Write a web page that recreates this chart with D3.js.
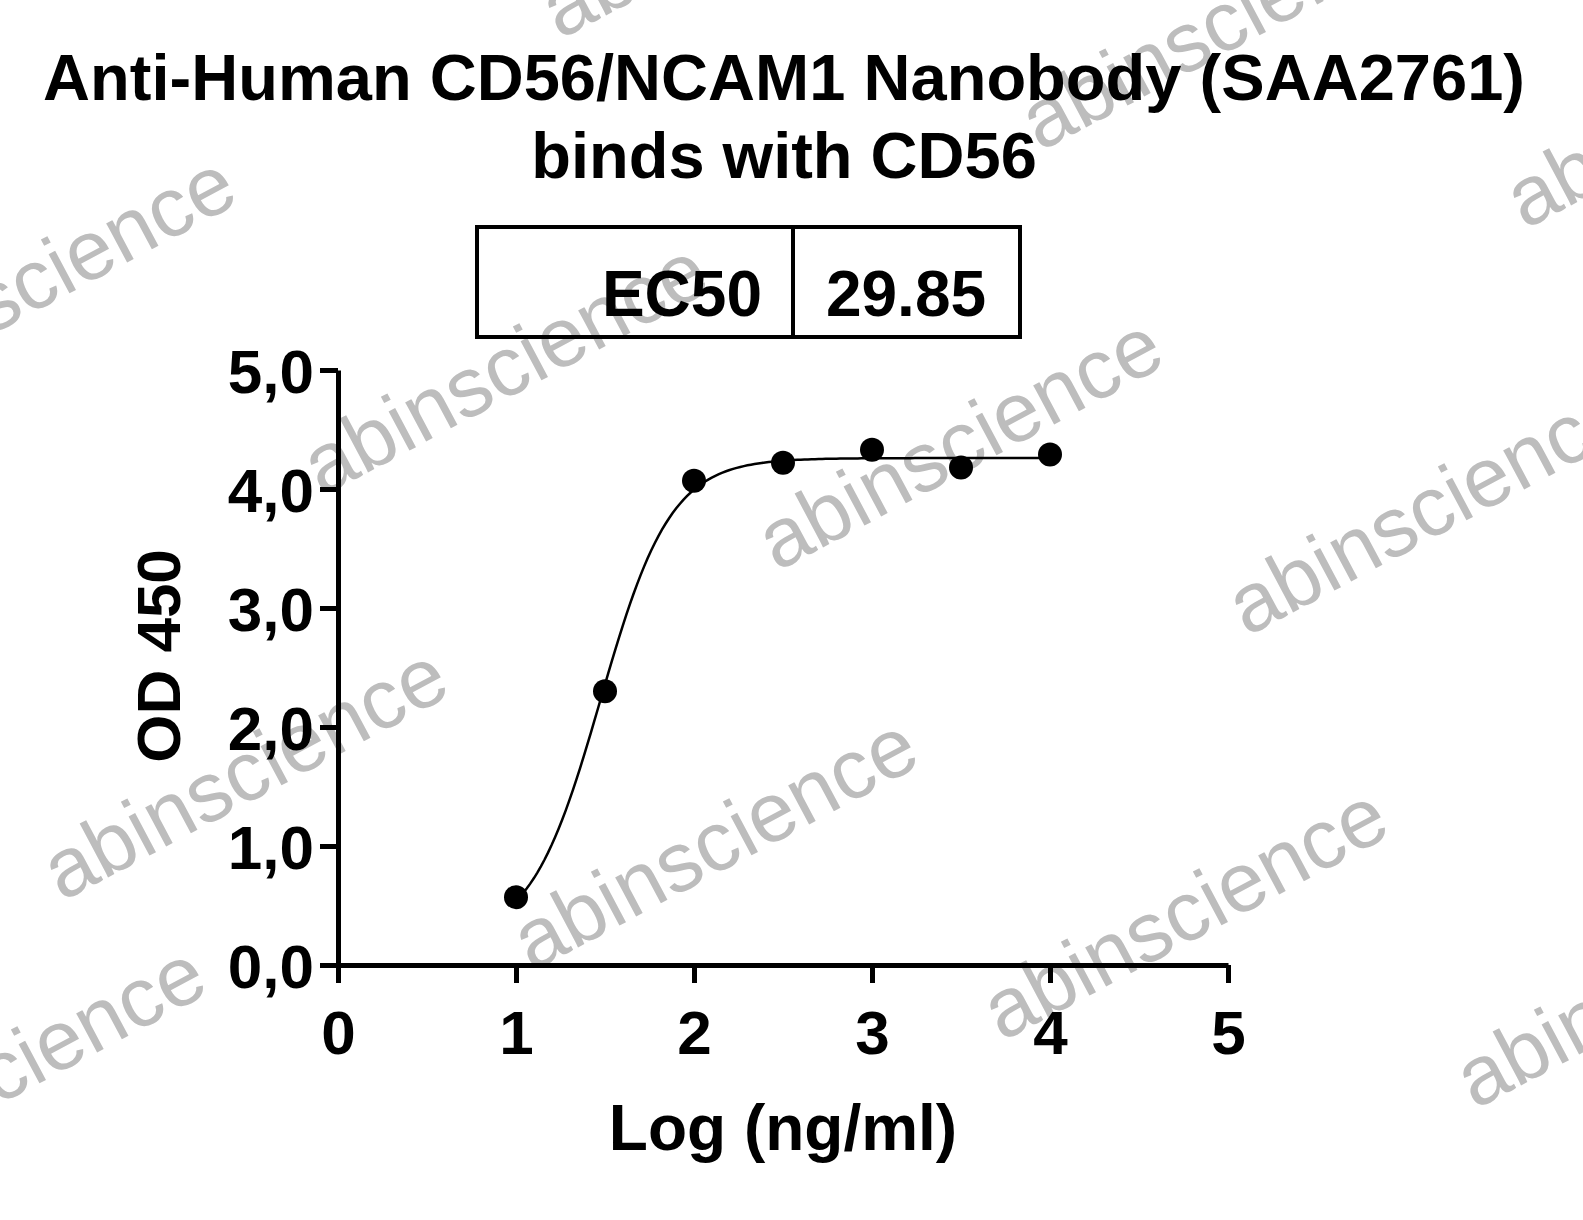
<!DOCTYPE html>
<html><head><meta charset="utf-8">
<script src="https://cdn.jsdelivr.net/npm/d3@7"></script>
<style>body{margin:0;background:#fff}svg{display:block}text{font-family:"Liberation Sans",Arial,sans-serif}</style>
</head><body><svg id="chart" width="1583" height="1220"></svg>
<script>
const logConc = [1, 1.5, 2, 2.5, 3, 3.5, 4]
const od450 = [0.57, 2.30, 4.07, 4.22, 4.33, 4.18, 4.29]
const xTicks = [0, 1, 2, 3, 4, 5]
const yTicks = [0, 1, 2, 3, 4, 5]
const fit = {bottom: 0.2, top: 4.26, logEC50: Math.log10(29.85), hill: 2.2}
const watermarks = [[322, 497], [-150, 410], [62, 902], [532, 972], [777, 572], [1002, 1042], [1247, 637], [1040, 152], [-180, 1200], [560, 40], [1475, 1110], [1525, 230]]

const svg = d3.select("#chart")
const x = d3.scaleLinear().domain([0, 5]).range([338, 1228])
const y = d3.scaleLinear().domain([0, 5]).range([965, 370])

svg.append("g").selectAll("text").data(watermarks).join("text")
  .attr("transform", d => `translate(${d[0]},${d[1]}) rotate(-28)`)
  .attr("font-size", 84).attr("fill", "#bdbdbd").text("abinscience")

svg.append("text").attr("x", 784).attr("y", 100).attr("text-anchor", "middle")
  .attr("font-size", 65).attr("font-weight", "bold").attr("textLength", 1482).text("Anti-Human CD56/NCAM1 Nanobody (SAA2761)")
svg.append("text").attr("x", 784).attr("y", 178).attr("text-anchor", "middle")
  .attr("font-size", 65).attr("font-weight", "bold").text("binds with CD56")

const box = svg.append("g")
box.append("rect").attr("x", 477).attr("y", 227).attr("width", 543).attr("height", 110)
  .attr("fill", "none").attr("stroke", "#000").attr("stroke-width", 4)
box.append("line").attr("x1", 793).attr("x2", 793).attr("y1", 227).attr("y2", 337).attr("stroke", "#000").attr("stroke-width", 4)
box.append("text").attr("x", 762).attr("y", 316).attr("text-anchor", "end").attr("font-size", 64).attr("font-weight", "bold").text("EC50")
box.append("text").attr("x", 906).attr("y", 316).attr("text-anchor", "middle").attr("font-size", 64).attr("font-weight", "bold").text("29.85")

const xAxis = svg.append("g").attr("transform", "translate(0,965)")
  .call(d3.axisBottom(x).tickValues(xTicks).tickFormat(d3.format("d")).tickSize(18).tickSizeOuter(0))
const yAxis = svg.append("g").attr("transform", "translate(338,0)")
  .call(d3.axisLeft(y).tickValues(yTicks).tickFormat(d => d.toFixed(1).replace(".", ",")).tickSize(18).tickSizeOuter(0))
for (const a of [xAxis, yAxis]) {
  a.select(".domain").attr("stroke-width", 5)
  a.selectAll(".tick line").attr("stroke-width", 5)
  a.selectAll(".tick text").attr("font-size", 62).attr("font-weight", "bold").attr("fill", "#000")
}
xAxis.selectAll(".tick text").attr("dy", "1.1em")
yAxis.selectAll(".tick text").attr("dx", "-0.05em").attr("dy", "0.36em")

svg.append("text").attr("x", 783).attr("y", 1150).attr("text-anchor", "middle")
  .attr("font-size", 64).attr("font-weight", "bold").text("Log (ng/ml)")
svg.append("text").attr("transform", "translate(180,656) rotate(-90)").attr("text-anchor", "middle")
  .attr("font-size", 62).attr("font-weight", "bold").text("OD 450")

const curveX = d3.range(1, 4.001, 0.02)
const f = v => fit.bottom + (fit.top - fit.bottom) / (1 + Math.pow(10, (fit.logEC50 - v) * fit.hill))
svg.append("path").datum(curveX)
  .attr("d", d3.line().x(d => x(d)).y(d => y(f(d))))
  .attr("fill", "none").attr("stroke", "#000").attr("stroke-width", 2.5)

svg.append("g").selectAll("circle").data(logConc).join("circle")
  .attr("cx", d => x(d)).attr("cy", (d, i) => y(od450[i])).attr("r", 12).attr("fill", "#000")
</script></body></html>
